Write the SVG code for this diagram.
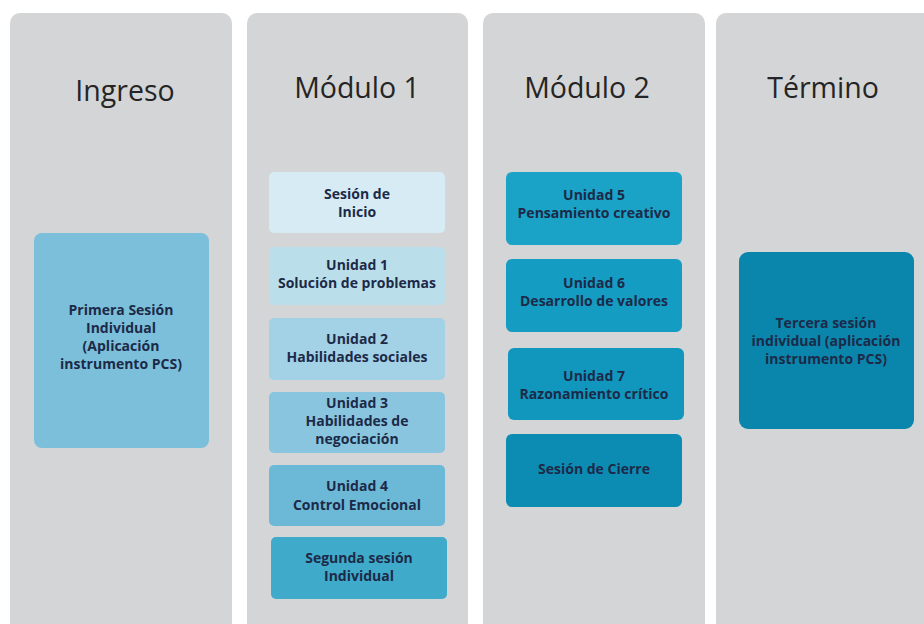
<svg xmlns="http://www.w3.org/2000/svg" width="924" height="624" viewBox="0 0 924 624">
<style>
.col{fill:#d4d5d7}
.title{font-family:"Open Sans","Liberation Sans",sans-serif;font-size:28.5px;fill:#252525;text-anchor:middle}
.lbl{font-family:"Open Sans","Liberation Sans",sans-serif;font-size:14px;font-weight:bold;fill:#1c2a48;text-anchor:middle}
</style>
<rect width="924" height="624" fill="#ffffff"/>
<g id="col-ingreso">
<rect class="col" x="10" y="13" width="222" height="620" rx="10"/>
<text class="title" x="125" y="101">Ingreso</text>
</g>
<g id="col-modulo1">
<rect class="col" x="247" y="13" width="221" height="620" rx="10"/>
<text class="title" x="357" y="98">Módulo 1</text>
</g>
<g id="col-modulo2">
<rect class="col" x="483" y="13" width="222" height="620" rx="10"/>
<text class="title" x="587" y="98">Módulo 2</text>
</g>
<g id="col-termino">
<rect class="col" x="716" y="13" width="220" height="620" rx="10"/>
<text class="title" x="823" y="98">Término</text>
</g>
<g id="primera-sesion">
<rect x="34" y="233" width="175" height="215" rx="8" fill="#7bbfdb"/>
<text class="lbl" x="121" y="315">Primera Sesión</text>
<text class="lbl" x="121" y="333">Individual</text>
<text class="lbl" x="121" y="351">(Aplicación</text>
<text class="lbl" x="121" y="369">instrumento PCS)</text>
</g>
<g id="sesion-inicio">
<rect x="269" y="172" width="176" height="61" rx="5" fill="#d7ebf4"/>
<text class="lbl" x="357" y="199">Sesión de</text>
<text class="lbl" x="357" y="217">Inicio</text>
</g>
<g id="unidad1">
<rect x="269" y="247" width="176" height="58" rx="5" fill="#bbdeeb"/>
<text class="lbl" x="357" y="270">Unidad 1</text>
<text class="lbl" x="357" y="288">Solución de problemas</text>
</g>
<g id="unidad2">
<rect x="269" y="318" width="176" height="62" rx="5" fill="#a3d1e5"/>
<text class="lbl" x="357" y="344">Unidad 2</text>
<text class="lbl" x="357" y="362">Habilidades sociales</text>
</g>
<g id="unidad3">
<rect x="269" y="392" width="176" height="61" rx="5" fill="#89c5de"/>
<text class="lbl" x="357" y="408">Unidad 3</text>
<text class="lbl" x="357" y="426">Habilidades de</text>
<text class="lbl" x="357" y="444">negociación</text>
</g>
<g id="unidad4">
<rect x="269" y="465" width="176" height="61" rx="5" fill="#6cb9d7"/>
<text class="lbl" x="357" y="491">Unidad 4</text>
<text class="lbl" x="357" y="510">Control Emocional</text>
</g>
<g id="segunda-sesion">
<rect x="271" y="537" width="176" height="62" rx="5" fill="#3faaca"/>
<text class="lbl" x="359" y="563">Segunda sesión</text>
<text class="lbl" x="359" y="581">Individual</text>
</g>
<g id="unidad5">
<rect x="506" y="172" width="176" height="73" rx="6" fill="#1aa2c7"/>
<text class="lbl" x="594" y="200">Unidad 5</text>
<text class="lbl" x="594" y="218">Pensamiento creativo</text>
</g>
<g id="unidad6">
<rect x="506" y="259" width="176" height="73" rx="6" fill="#159cc3"/>
<text class="lbl" x="594" y="288">Unidad 6</text>
<text class="lbl" x="594" y="306">Desarrollo de valores</text>
</g>
<g id="unidad7">
<rect x="508" y="348" width="176" height="72" rx="6" fill="#1196be"/>
<text class="lbl" x="594" y="381">Unidad 7</text>
<text class="lbl" x="594" y="399">Razonamiento crítico</text>
</g>
<g id="sesion-cierre">
<rect x="506" y="434" width="176" height="73" rx="6" fill="#0d8cb3"/>
<text class="lbl" x="594" y="474">Sesión de Cierre</text>
</g>
<g id="tercera-sesion">
<rect x="739" y="252" width="175" height="177" rx="9" fill="#0a86ad"/>
<text class="lbl" x="826" y="328">Tercera sesión</text>
<text class="lbl" x="826" y="346">individual (aplicación</text>
<text class="lbl" x="826" y="364">instrumento PCS)</text>
</g>
<g id="connectors"></g>
</svg>
